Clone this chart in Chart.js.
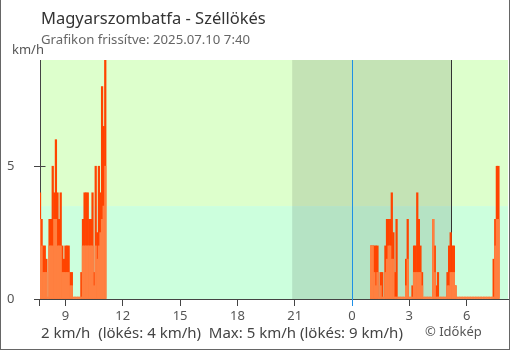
<!DOCTYPE html>
<html lang="hu">
<head>
<meta charset="UTF-8">
<title>Magyarszombatfa - Széllökés</title>
<script src="https://cdn.jsdelivr.net/npm/chart.js"></script>
<style>
  body { margin: 0; background: #fff; font-family: 'Noto Sans', sans-serif; }
  #wrap { position: relative; width: 510px; height: 350px; }
  #frame { position: absolute; left: 0; top: 0; width: 510px; height: 350px; box-sizing: border-box;
           border: 1px solid #666; border-top: none; pointer-events: none; }
  .txt { position: absolute; white-space: pre; line-height: 1; }
  #title { left: 41px; top: 10px; font-size: 16.5px; color: #333; }
  #updated { left: 41px; top: 33px; font-size: 13.2px; color: #666; }
  #unit { left: 12px; top: 43px; font-size: 13px; color: #555; }
  #summary { left: 41px; top: 325px; font-size: 15px; color: #444; }
  #credit { left: 425px; top: 325px; font-size: 13px; color: #555; }
</style>
</head>
<body>
<div id="wrap">
  <canvas id="gustChart" width="510" height="350"></canvas>
  <div class="txt" id="title">Magyarszombatfa - Széllökés</div>
  <div class="txt" id="updated">Grafikon frissítve: 2025.07.10 7:40</div>
  <div class="txt" id="unit">km/h</div>
  <div class="txt" id="summary">2 km/h  (lökés: 4 km/h)  Max: 5 km/h (lökés: 9 km/h)</div>
  <div class="txt" id="credit">© Időkép</div>
  <div id="frame"></div>
</div>

<script>
// 5 minute samples, hours counted from 2025.07.09 00:00
const stepMinutes = 5;

const morningStart = 7 + 40 / 60;   // 07:40
const morningWind = [3, 2, 1, 1, 1, 0, 2, 2, 2, 3,
                     3, 2, 2, 2, 1, 1, 1, 1, 1, 0.5,
                     0.5, 0, 0, 0, 0, 0, 0, 2, 2, 2,
                     2, 2, 2, 2, 0.5, 2, 1.5, 2, 2.5, 3,
                     3.5, 5];
const morningGust = [4, 3, 2, 2, 1.5, 0, 3, 3, 5, 4,
                     6, 4, 3, 4, 2, 1.5, 2, 2, 2, 1,
                     1, 0, 0, 0, 0, 0, 1, 3, 4, 4,
                     4, 3, 3, 4, 1, 5, 2.5, 5, 4, 8,
                     6.5, 9];

const nightStart = 25;              // 01:00 next day
const nightWind = [2, 2, 1, 0.5, 1, 0, 0.5, 0, 0, 1,
                   1.5, 2, 2, 1.5, 1.5, 0, 0, 0, 0, 0,
                   0, 0, 0.5, 1.5, 0, 0, 0, 1, 1, 1,
                   1, 1, 0.5, 0, 0, 0, 0, 0, 0, 3,
                   1, 0, 0, 0, 0, 0, 0, 0, 0.5, 0.5,
                   1, 1, 1, 0.5, 0, 0, 0, 0, 0, 0,
                   0, 0, 0, 0, 0, 0, 0, 0, 0, 0,
                   0, 0, 0, 0, 0, 0, 0, 0, 2, 3,
                   3];
const nightGust = [2, 2, 2, 2, 2, 0, 1, 1, 0, 2,
                   3, 3, 3, 4, 2.5, 1, 3, 0, 0, 0,
                   0, 0, 1.5, 3, 0, 0, 0.5, 2, 2, 4,
                   3, 2, 1, 0, 0, 0, 0, 0, 0, 3,
                   2, 0.5, 1, 0, 0, 0, 0, 0, 1, 2,
                   2.5, 2, 2, 0.5, 0, 0, 0, 0, 0, 0,
                   0, 0, 0, 0, 0, 0, 0, 0, 0, 0,
                   0, 0, 0, 0, 0, 0, 0, 1.5, 3, 5,
                   5];

const hourTicks = [9, 12, 15, 18, 21, 24, 27, 30];
const hourLabels = ['9', '12', '15', '18', '21', '0', '3', '6'];
const valueTicks = [0, 5];

const axisStart = 7 + 40 / 60;
const axisEnd = 32 + 10 / 60;
const sunset = 20 + 52 / 60;
const sunrise = 29 + 11 / 60;
const midnight = 24;
const calmLimit = 3.5;

function toPoints(start, values) {
  return values.map((v, i) => ({ x: start + i * stepMinutes / 60, y: v }));
}

const windPoints = toPoints(morningStart, morningWind).concat(toPoints(nightStart, nightWind));
const gustPoints = toPoints(morningStart, morningGust).concat(toPoints(nightStart, nightGust));

const axisColor = '#444';

// coloured bands and the night shade go under the axes
const backdrop = {
  id: 'backdrop',
  beforeDraw(chart) {
    const { ctx, chartArea: a, scales: { x, y } } = chart;
    const yb = y.getPixelForValue(calmLimit);
    ctx.save();
    ctx.fillStyle = '#ddffcc';
    ctx.fillRect(a.left, a.top, a.right - a.left, yb - a.top);
    ctx.fillStyle = '#ccffdd';
    ctx.fillRect(a.left, yb, a.right - a.left, a.bottom - yb);
    const xs = x.getPixelForValue(sunset);
    const xr = x.getPixelForValue(sunrise);
    ctx.fillStyle = 'rgba(0, 0, 0, 0.11)';
    ctx.fillRect(xs, a.top, xr - xs, a.bottom - a.top);
    ctx.restore();
  },
  beforeDatasetsDraw(chart) {
    const { ctx, chartArea: a, scales: { x, y } } = chart;
    ctx.save();
    ctx.lineWidth = 1;
    // sunrise marker
    const xr = Math.round(x.getPixelForValue(sunrise)) + 0.5;
    ctx.strokeStyle = '#333';
    ctx.beginPath(); ctx.moveTo(xr, a.top); ctx.lineTo(xr, a.bottom); ctx.stroke();
    // midnight
    const xm = Math.round(x.getPixelForValue(midnight)) + 0.5;
    ctx.strokeStyle = '#1e90e6';
    ctx.beginPath(); ctx.moveTo(xm, a.top); ctx.lineTo(xm, a.bottom + 7); ctx.stroke();
    // inner half of the value ticks and the axis stub below the plot
    ctx.strokeStyle = axisColor;
    const xl = Math.round(a.left) - 0.5;
    ctx.beginPath();
    valueTicks.forEach(v => {
      const yy = Math.round(y.getPixelForValue(v)) + 0.5;
      if (v > 0) { ctx.moveTo(xl, yy); ctx.lineTo(xl + 6, yy); }
    });
    ctx.moveTo(xl, a.bottom); ctx.lineTo(xl, a.bottom + 7);
    ctx.stroke();
    ctx.restore();
  }
};

new Chart(document.getElementById('gustChart'), {
  type: 'bar',
  data: {
    datasets: [
      {
        label: 'Szél',
        data: windPoints,
        backgroundColor: '#ff8040',
        grouped: false,
        barPercentage: 1,
        categoryPercentage: 1,
        minBarLength: 2
      },
      {
        label: 'Széllökés',
        data: gustPoints,
        backgroundColor: '#ff4400',
        grouped: false,
        barPercentage: 1,
        categoryPercentage: 1
      }
    ]
  },
  options: {
    responsive: false,
    animation: false,
    devicePixelRatio: 1,
    layout: { padding: { left: 7, right: 2, top: 60, bottom: 24 } },
    plugins: { legend: { display: false }, tooltip: { enabled: false } },
    scales: {
      x: {
        type: 'linear',
        min: axisStart,
        max: axisEnd,
        offset: false,
        afterBuildTicks: scale => { scale.ticks = hourTicks.map(v => ({ value: v })); },
        afterFit: scale => { scale.height = 27; },
        grid: {
          offset: false,
          drawOnChartArea: false,
          tickLength: 7,
          tickColor: c => (c.tick && c.tick.value === midnight ? '#1e90e6' : axisColor)
        },
        border: { color: axisColor },
        ticks: {
          padding: 2,
          maxRotation: 0,
          autoSkip: false,
          color: '#555',
          font: { family: 'Noto Sans', size: 13 },
          callback: v => hourLabels[hourTicks.indexOf(v)]
        }
      },
      y: {
        min: 0,
        max: 9,
        afterBuildTicks: scale => { scale.ticks = valueTicks.map(v => ({ value: v })); },
        afterFit: scale => { scale.width = 33; },
        grid: { drawOnChartArea: false, tickLength: 6, color: axisColor },
        border: { color: axisColor },
        ticks: {
          crossAlign: 'far',
          color: '#555',
          font: { family: 'Noto Sans', size: 13 }
        }
      }
    }
  },
  plugins: [backdrop]
});
</script>
</body>
</html>
